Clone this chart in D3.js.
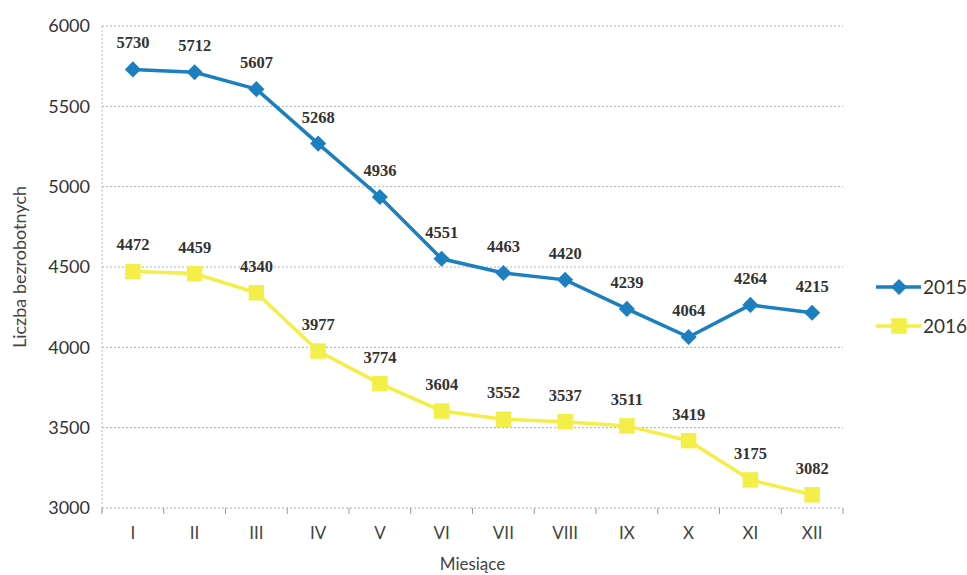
<!DOCTYPE html>
<html>
<head>
<meta charset="utf-8">
<script src="https://cdn.jsdelivr.net/npm/d3@7.9.0/dist/d3.min.js"></script>
<style>
  body { margin: 0; background: #fff; }
  svg { display: block; }
</style>
</head>
<body>
<svg id="chart" width="967" height="575"></svg>
<script>
// months (Roman numerals) and the two yearly series
const months = ['I', 'II', 'III', 'IV', 'V', 'VI', 'VII', 'VIII', 'IX', 'X', 'XI', 'XII'];
const values2015 = [5730, 5712, 5607, 5268, 4936, 4551, 4463, 4420, 4239, 4064, 4264, 4215];
const values2016 = [4472, 4459, 4340, 3977, 3774, 3604, 3552, 3537, 3511, 3419, 3175, 3082];
const yTicks = [3000, 3500, 4000, 4500, 5000, 5500, 6000];

const series = [
  { name: '2015', values: values2015, color: '#1b7fc0', marker: 'diamond' },
  { name: '2016', values: values2016, color: '#f4ef48', marker: 'square' }
];

const svg = d3.select('#chart');
const margin = { left: 102, right: 124, top: 26, bottom: 67 };
const width = 967 - margin.left - margin.right;
const height = 575 - margin.top - margin.bottom;

const g = svg.append('g').attr('transform', `translate(${margin.left},${margin.top})`);

const x = d3.scaleBand().domain(months).range([0, width]);
const y = d3.scaleLinear().domain([3000, 6000]).range([height, 0]);

// horizontal grid
g.append('g')
  .selectAll('line')
  .data(yTicks)
  .join('line')
  .attr('x1', 0)
  .attr('x2', width)
  .attr('y1', d => y(d))
  .attr('y2', d => y(d))
  .attr('stroke', '#a9b0c4')
  .attr('stroke-width', 1)
  .attr('stroke-dasharray', '2,2');

// left axis line (dotted like the scan)
g.append('line')
  .attr('x1', 0).attr('x2', 0)
  .attr('y1', 0).attr('y2', height + 5)
  .attr('stroke', '#b8bfd0')
  .attr('stroke-dasharray', '2,2');

// y axis labels
const yAxis = g.append('g').call(d3.axisLeft(y).tickValues(yTicks).tickFormat(d3.format('d')).tickSize(0).tickPadding(12));
yAxis.select('.domain').remove();
yAxis.selectAll('text')
  .attr('font-family', 'Lato, "Open Sans", sans-serif')
  .attr('font-size', 18)
  .attr('fill', '#333');

// x axis with ticks at category boundaries
const xAxis = g.append('g').attr('transform', `translate(0,${height})`)
  .call(d3.axisBottom(x).tickSize(0).tickPadding(19));
xAxis.select('.domain').remove();
xAxis.selectAll('text')
  .attr('font-family', 'Lato, "Open Sans", sans-serif')
  .attr('font-size', 17)
  .attr('fill', '#444');
g.append('g').attr('transform', `translate(0,${height})`)
  .selectAll('line')
  .data(months.concat(['end']))
  .join('line')
  .attr('x1', (d, i) => i * x.step())
  .attr('x2', (d, i) => i * x.step())
  .attr('y1', 0)
  .attr('y2', 6)
  .attr('stroke', '#999');

const line = d3.line()
  .x((d, i) => x(months[i]) + x.bandwidth() / 2)
  .y(d => y(d));

const diamond = d3.symbol().type(d3.symbolSquare).size(130);
const square = d3.symbol().type(d3.symbolSquare).size(240);
const markerTransform = s => s.marker === 'diamond' ? ' rotate(45)' : '';

series.forEach(s => {
  g.append('path')
    .datum(s.values)
    .attr('fill', 'none')
    .attr('stroke', s.color)
    .attr('stroke-width', 3.5)
    .attr('d', line);

  g.append('g')
    .selectAll('path')
    .data(s.values)
    .join('path')
    .attr('transform', (d, i) => `translate(${x(months[i]) + x.bandwidth() / 2},${y(d)})` + markerTransform(s))
    .attr('d', s.marker === 'diamond' ? diamond : square)
    .attr('fill', s.color);

  g.append('g')
    .selectAll('text')
    .data(s.values)
    .join('text')
    .attr('x', (d, i) => x(months[i]) + x.bandwidth() / 2)
    .attr('y', d => y(d) - 21)
    .attr('text-anchor', 'middle')
    .attr('font-family', '"Liberation Serif", "DejaVu Serif", serif')
    .attr('font-weight', 'bold')
    .attr('font-size', 16.5)
    .attr('fill', '#333')
    .text(d => d);
});

// axis titles
svg.append('text')
  .attr('x', margin.left + width / 2)
  .attr('y', 570)
  .attr('text-anchor', 'middle')
  .attr('font-family', 'Lato, "Open Sans", sans-serif')
  .attr('font-size', 17)
  .attr('fill', '#444')
  .text('Miesiące');

svg.append('text')
  .attr('transform', `translate(26,${margin.top + height / 2}) rotate(-90)`)
  .attr('text-anchor', 'middle')
  .attr('font-family', 'Lato, "Open Sans", sans-serif')
  .attr('font-size', 18)
  .attr('fill', '#444')
  .text('Liczba bezrobotnych');

// legend
const legend = svg.append('g').attr('transform', 'translate(876,287)');
series.forEach((s, i) => {
  const row = legend.append('g').attr('transform', `translate(0,${i * 39})`);
  row.append('line')
    .attr('x1', 0).attr('x2', 45)
    .attr('stroke', s.color)
    .attr('stroke-width', 3.5);
  row.append('path')
    .attr('transform', 'translate(23,0)' + markerTransform(s))
    .attr('d', s.marker === 'diamond' ? diamond : square)
    .attr('fill', s.color);
  row.append('text')
    .attr('x', 47)
    .attr('y', 7)
    .attr('font-family', 'Lato, "Open Sans", sans-serif')
    .attr('font-size', 19)
    .attr('fill', '#333')
    .text(s.name);
});
</script>
</body>
</html>
